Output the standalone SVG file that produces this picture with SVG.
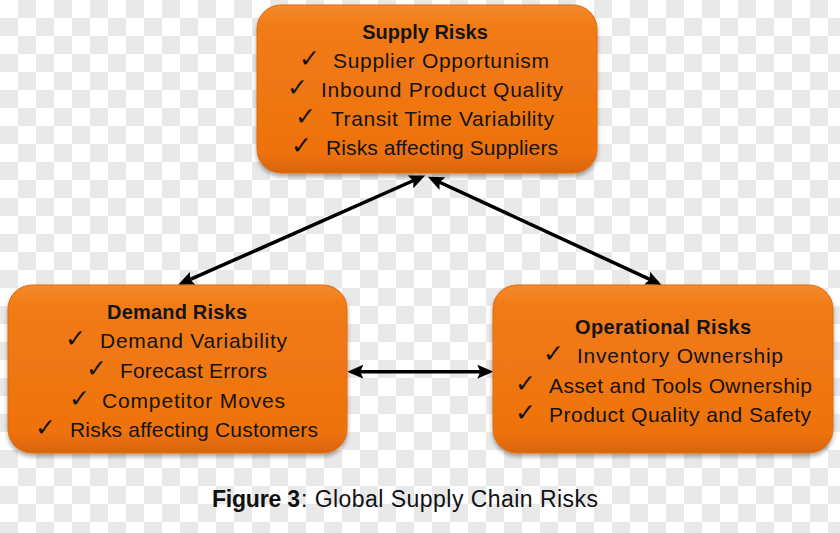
<svg xmlns="http://www.w3.org/2000/svg" width="840" height="533" viewBox="0 0 840 533">
  <style>
    .title { font-family: "Liberation Sans", Arial, sans-serif; font-weight: bold; font-size: 20px; fill: #141414; }
    .item { font-family: "Liberation Sans", Arial, sans-serif; font-size: 21px; fill: #141414; }
    .chk { font-family: "DejaVu Sans", sans-serif; font-weight: bold; font-size: 25px; fill: #141414; }
    .box { fill: url(#orange); stroke: #e06c0c; stroke-width: 1; filter: url(#shadow); }
    .conn { stroke: #000; stroke-width: 3.5; fill: none; marker-start: url(#head); marker-end: url(#head); }
    .cap { font-family: "Liberation Sans", Arial, sans-serif; font-size: 23px; fill: #111; }
  </style>
  <defs>
    <pattern id="checker" width="36" height="36" patternUnits="userSpaceOnUse">
      <rect width="36" height="36" fill="#ffffff"/>
      <rect x="18" y="0" width="18" height="18" fill="#e9e9e9"/>
      <rect x="0" y="18" width="18" height="18" fill="#e9e9e9"/>
    </pattern>
    <linearGradient id="orange" x1="0" y1="0" x2="0" y2="1">
      <stop offset="0" stop-color="#f38a2c"/>
      <stop offset="0.12" stop-color="#f17b16"/>
      <stop offset="0.88" stop-color="#ee720e"/>
      <stop offset="1" stop-color="#d8640a"/>
    </linearGradient>
    <filter id="shadow" x="-10%" y="-10%" width="120%" height="125%">
      <feDropShadow dx="0" dy="3" stdDeviation="2" flood-color="#000" flood-opacity="0.35"/>
    </filter>
    <marker id="head" markerUnits="userSpaceOnUse" markerWidth="16" markerHeight="14" refX="12" refY="7" orient="auto-start-reverse">
      <path d="M0,0 L16,7 L0,14 L3,7 z" fill="#000"/>
    </marker>
  </defs>

  <rect width="840" height="533" fill="url(#checker)"/>

  <g id="connectors">
    <path class="conn" d="M421.5,177 L181.8,283.2"/>
    <path class="conn" d="M431.5,178.5 L658,283.2"/>
    <path class="conn" d="M351.3,371.7 L489.3,371.7"/>
  </g>

  <g id="supply">
    <rect class="box" x="257" y="5" width="340" height="168" rx="24" ry="24"/>
    <text class="title" x="425" y="39" text-anchor="middle">Supply Risks</text>
    <text class="chk" x="299" y="67">✓</text>
    <text class="item" x="333" y="68" textLength="216">Supplier Opportunism</text>
    <text class="chk" x="287" y="96">✓</text>
    <text class="item" x="321" y="97" textLength="242">Inbound Product Quality</text>
    <text class="chk" x="295" y="125">✓</text>
    <text class="item" x="331" y="126" textLength="223">Transit Time Variability</text>
    <text class="chk" x="291" y="154">✓</text>
    <text class="item" x="326" y="155" textLength="232">Risks affecting Suppliers</text>
  </g>

  <g id="demand">
    <rect class="box" x="8" y="285" width="339" height="168" rx="24" ry="24"/>
    <text class="title" x="107" y="319" textLength="140">Demand Risks</text>
    <text class="chk" x="65" y="347">✓</text>
    <text class="item" x="100" y="348" textLength="187">Demand Variability</text>
    <text class="chk" x="86" y="377">✓</text>
    <text class="item" x="120" y="378" textLength="147">Forecast Errors</text>
    <text class="chk" x="69" y="407">✓</text>
    <text class="item" x="102" y="408" textLength="183">Competitor Moves</text>
    <text class="chk" x="35" y="436">✓</text>
    <text class="item" x="70" y="437" textLength="248">Risks affecting Customers</text>
  </g>

  <g id="operational">
    <rect class="box" x="493" y="285" width="340" height="168" rx="24" ry="24"/>
    <text class="title" x="575" y="334" textLength="176">Operational Risks</text>
    <text class="chk" x="543" y="362">✓</text>
    <text class="item" x="577" y="363" textLength="206">Inventory Ownership</text>
    <text class="chk" x="515" y="392">✓</text>
    <text class="item" x="549" y="393" textLength="263">Asset and Tools Ownership</text>
    <text class="chk" x="515" y="421">✓</text>
    <text class="item" x="549" y="422" textLength="262">Product Quality and Safety</text>
  </g>

  <g id="caption">
    <text class="cap" x="212" y="507" font-weight="bold" textLength="88">Figure 3</text>
    <text class="cap" x="301" y="507" textLength="297">: Global Supply Chain Risks</text>
  </g>
</svg>
